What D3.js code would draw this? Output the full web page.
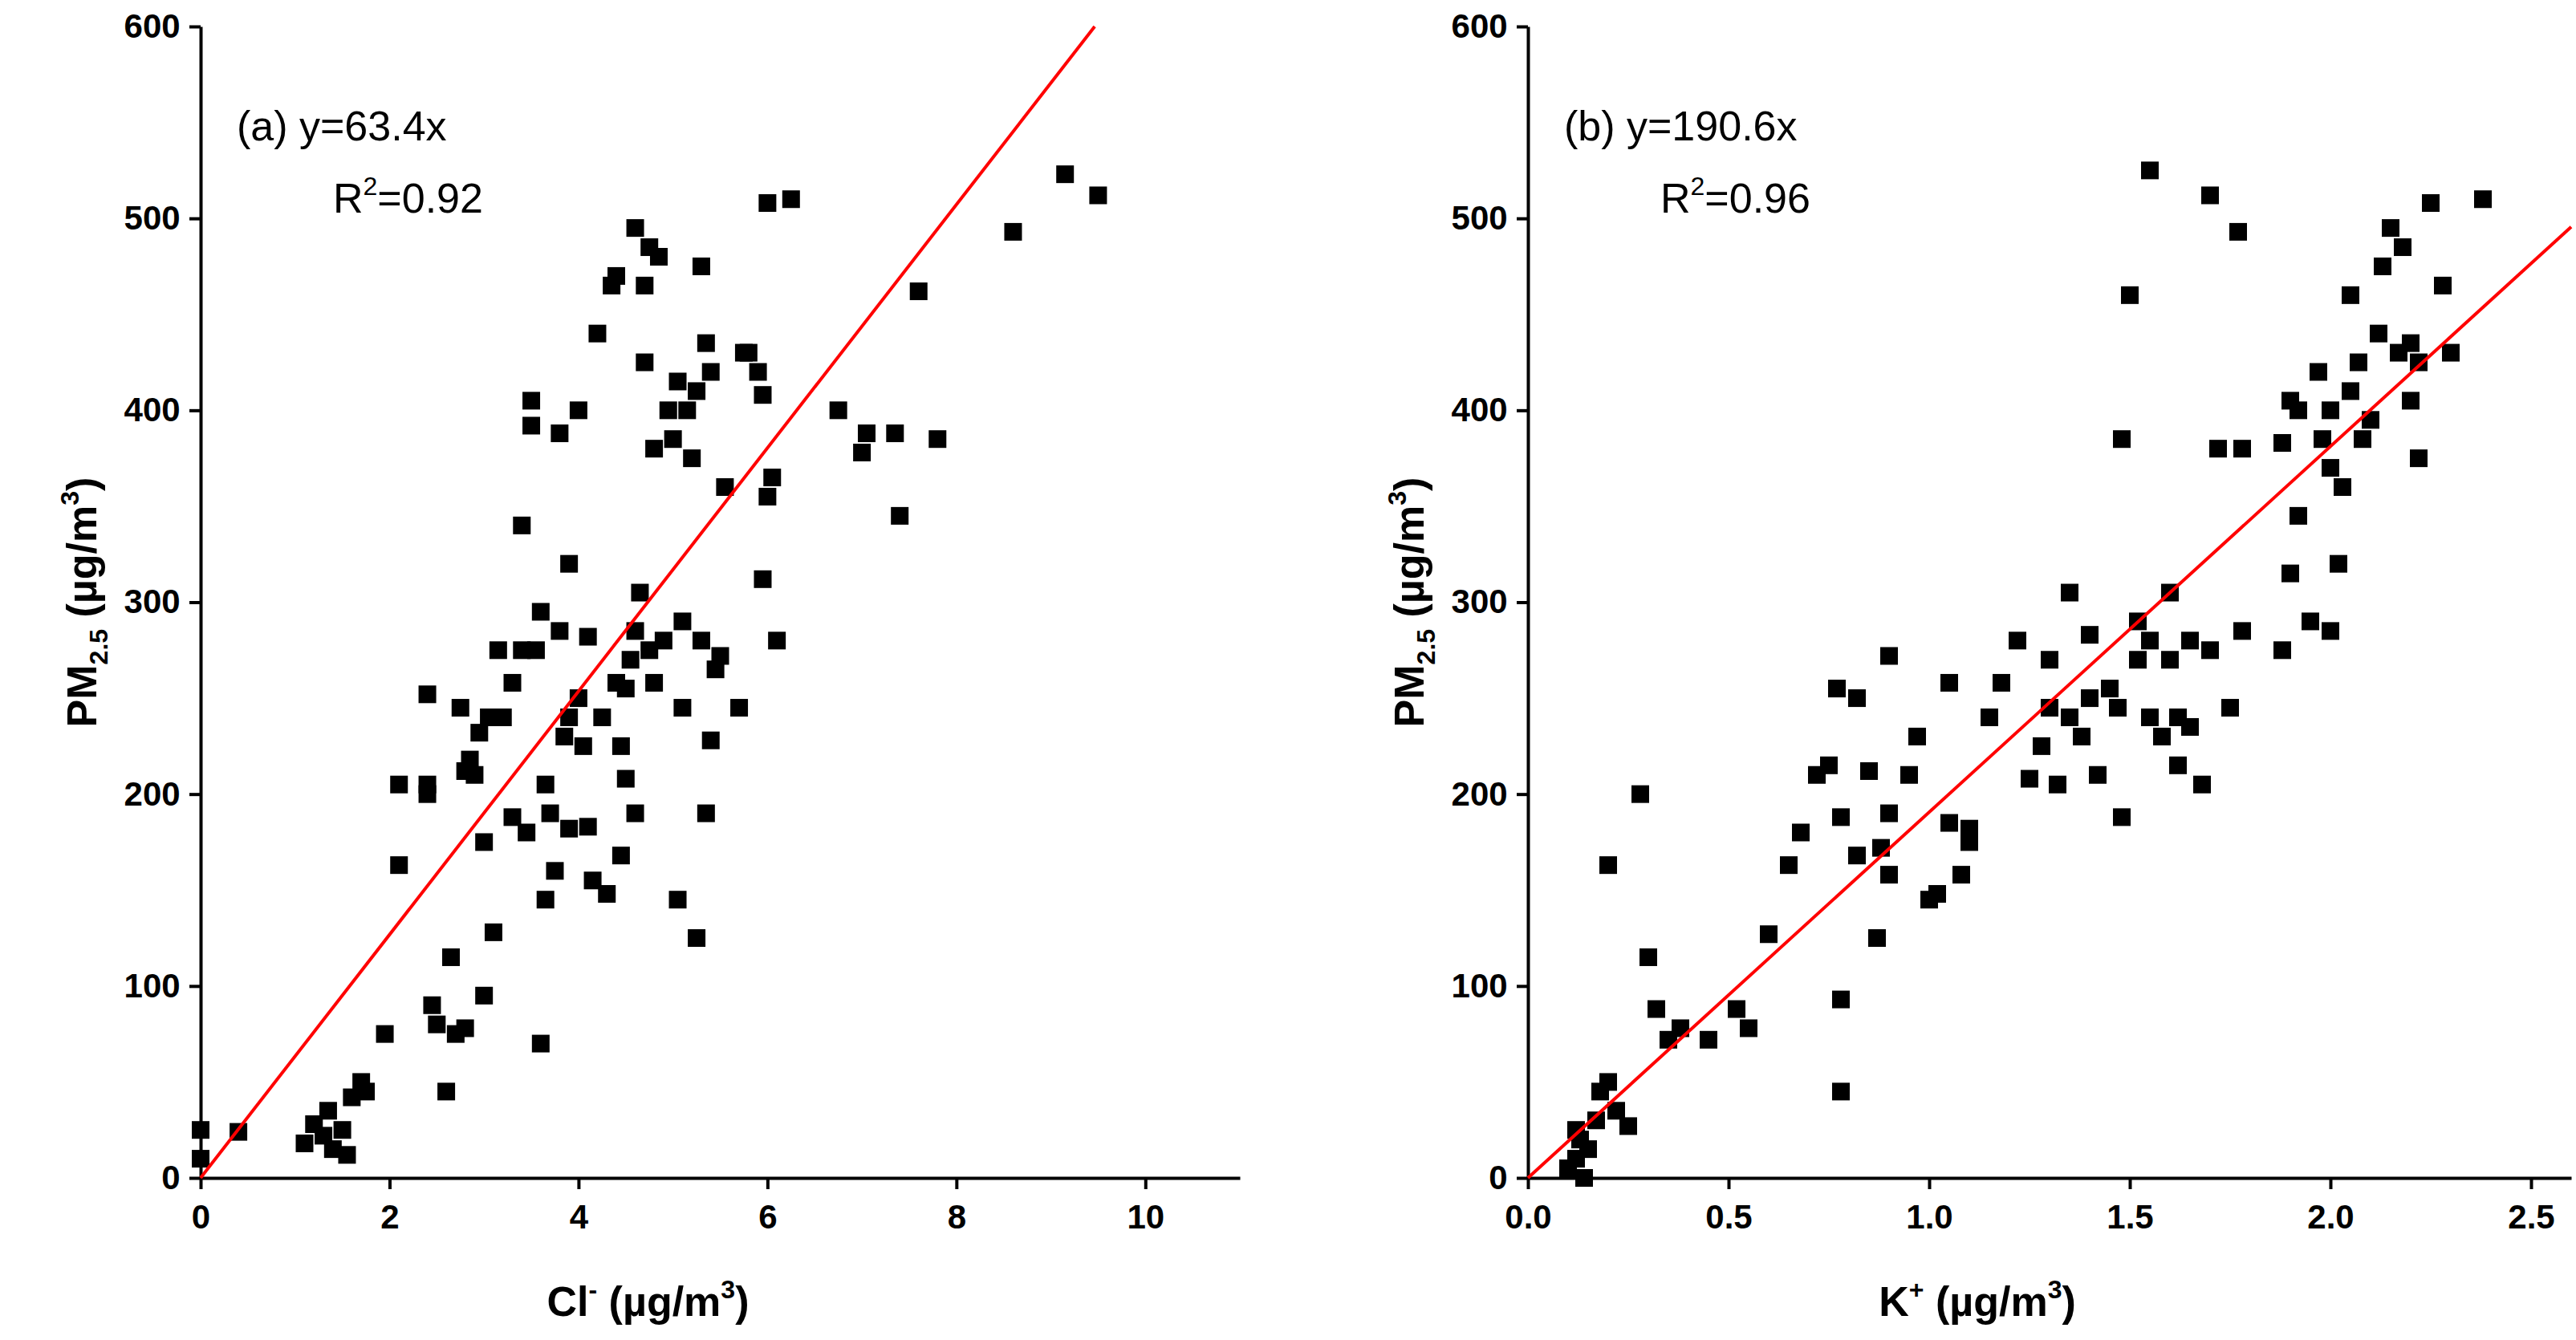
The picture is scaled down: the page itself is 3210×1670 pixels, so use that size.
<!DOCTYPE html>
<html><head><meta charset="utf-8">
<script src="https://cdn.jsdelivr.net/npm/d3@7"></script>
<style>body{margin:0;background:#fff}svg{display:block;font-family:"Liberation Sans",Arial,sans-serif}</style>
</head><body>
<script>
// panel (a): Cl- vs PM2.5
var clX = [0,0,0.4,1.1,1.2,1.3,1.35,1.4,1.5,1.55,1.6,1.7,1.75,1.95,2.1,2.1,2.4,2.4,2.45,2.5,2.4,2.6,2.65,2.7,2.8,2.75,2.8,2.85,2.9,2.95,3,3,3.05,3.1,3.15,3.2,3.3,3.3,3.4,3.4,3.45,3.5,3.5,3.55,3.6,3.65,3.6,3.7,3.65,3.75,3.8,3.8,3.85,3.9,3.9,3.9,4,4,4.05,4.1,4.1,4.15,4.2,4.25,4.3,4.35,4.4,4.4,4.45,4.45,4.5,4.5,4.55,4.6,4.6,4.6,4.65,4.7,4.7,4.75,4.75,4.8,4.8,4.85,4.9,4.95,5,5.05,5.05,5.1,5.1,5.15,5.2,5.25,5.3,5.3,5.35,5.35,5.4,5.4,5.45,5.5,5.55,5.7,5.75,5.8,5.9,5.95,6,5.95,6,6.05,6.1,6.25,5.25,6.75,7,7.05,7.35,7.4,7.6,7.8,8.6,9.15,9.5];
var clPM = [25,10,24,18,28,22,35,15,25,12,42,50,45,75,163,205,252,205,90,80,200,45,115,75,78,245,212,218,210,232,175,95,240,128,275,240,258,188,340,275,180,405,392,275,295,205,70,190,145,160,388,285,230,320,240,182,400,250,225,183,282,155,440,240,148,465,470,258,225,168,208,255,270,495,285,190,305,425,465,485,275,380,258,480,280,400,385,415,145,245,290,400,375,410,475,280,435,190,228,420,265,272,360,245,430,430,420,408,508,312,355,365,280,510,125,400,378,388,388,345,462,385,493,523,512];
// panel (b): K+ vs PM2.5
var kX = [0.1,0.12,0.13,0.15,0.12,0.14,0.17,0.18,0.2,0.2,0.22,0.25,0.28,0.3,0.32,0.35,0.38,0.45,0.52,0.55,0.6,0.65,0.68,0.72,0.75,0.77,0.78,0.78,0.78,0.82,0.82,0.85,0.87,0.88,0.9,0.9,0.9,0.95,0.97,1,1.02,1.05,1.05,1.08,1.1,1.1,1.15,1.18,1.22,1.25,1.28,1.3,1.3,1.32,1.35,1.35,1.38,1.4,1.4,1.42,1.45,1.47,1.48,1.48,1.5,1.52,1.55,1.52,1.55,1.55,1.58,1.6,1.6,1.62,1.62,1.65,1.65,1.68,1.7,1.7,1.72,1.75,1.77,1.78,1.78,1.88,1.88,1.9,1.9,1.92,1.92,1.95,1.97,1.98,2,2,2,2.02,2.03,2.05,2.05,2.07,2.08,2.1,2.12,2.13,2.15,2.17,2.18,2.2,2.2,2.22,2.22,2.25,2.28,2.3,2.38];
var kPM = [5,10,20,15,25,0,30,45,50,163,35,27,200,115,88,72,78,72,88,78,127,163,180,210,215,255,188,93,45,168,250,212,125,172,272,190,158,210,230,145,148,185,258,158,182,175,240,258,280,208,225,245,270,205,305,240,230,283,250,210,255,245,188,385,460,270,525,290,240,280,230,305,270,215,240,280,235,205,275,512,380,245,493,380,285,383,275,405,315,345,400,290,420,385,400,370,285,320,360,410,460,425,385,395,440,475,495,430,485,405,435,375,425,508,465,430,510];
var yTicks = [0,100,200,300,400,500,600];
var panels = [
  {x: clX, y: clPM, slope: 63.4, dom: [0, 11], ticks: [0,2,4,6,8,10], fmt: d3.format("d"), left: 250, right: 1545, tag: "(a)", eq: "y=63.4x", r2: "0.92", ion: "Cl", sup: "-"},
  {x: kX, y: kPM, slope: 190.6, dom: [0, 2.6], ticks: [0,0.5,1,1.5,2,2.5], fmt: d3.format(".1f"), left: 1904, right: 3204, tag: "(b)", eq: "y=190.6x", r2: "0.96", ion: "K", sup: "+"}
];
var svg = d3.select("body").append("svg").attr("width", 3210).attr("height", 1670);
var plotTop = 33, plotBottom = 1468;
panels.forEach(function (p) {
  var x = d3.scaleLinear().domain(p.dom).range([p.left, p.right]);
  var y = d3.scaleLinear().domain([0, 600]).range([plotBottom, plotTop]);
  var g = svg.append("g");
  var ax = g.append("g").attr("transform", "translate(0," + plotBottom + ")")
    .call(d3.axisBottom(x).tickValues(p.ticks).tickFormat(p.fmt).tickSize(14).tickSizeOuter(0));
  var ay = g.append("g").attr("transform", "translate(" + p.left + ",0)")
    .call(d3.axisLeft(y).tickValues(yTicks).tickSize(14).tickSizeOuter(0));
  [ax, ay].forEach(function (a) {
    a.selectAll("path,line").attr("stroke", "#000").attr("stroke-width", 4);
    a.selectAll("text").attr("font-size", 42).attr("font-weight", "bold").attr("font-family", "Liberation Sans, Arial");
  });
  ax.selectAll("text").attr("dy", "1.1em");
  ay.selectAll("text").attr("dx", "-0.2em");
  g.selectAll("rect.pt").data(p.x).enter().append("rect")
    .attr("x", function (d) { return x(d) - 11; })
    .attr("y", function (d, i) { return y(p.y[i]) - 11; })
    .attr("width", 22).attr("height", 22).attr("fill", "#000");
  var xEnd = Math.min(p.dom[1], 600 / p.slope);
  g.append("line").attr("x1", x(0)).attr("y1", y(0)).attr("x2", x(xEnd)).attr("y2", y(p.slope * xEnd))
    .attr("stroke", "#ff0000").attr("stroke-width", 4);
  var t = g.append("text").attr("x", p.left + 45).attr("y", 175).attr("font-size", 52);
  t.text(p.tag + "  " + p.eq);
  var r = g.append("text").attr("x", p.left + 165).attr("y", 265).attr("font-size", 52);
  r.append("tspan").text("R");
  r.append("tspan").attr("font-size", 32).attr("dy", -22).text("2");
  r.append("tspan").attr("dy", 22).text("=" + p.r2);
  var xl = g.append("text").attr("x", (p.left + p.right) / 2 - 90).attr("y", 1640)
    .attr("text-anchor", "middle").attr("font-size", 52).attr("font-weight", "bold");
  xl.append("tspan").text(p.ion);
  xl.append("tspan").attr("font-size", 32).attr("dy", -22).text(p.sup);
  xl.append("tspan").attr("dy", 22).text(" (\u00b5g/m");
  xl.append("tspan").attr("font-size", 32).attr("dy", -22).text("3");
  xl.append("tspan").attr("dy", 22).text(")");
  var yl = g.append("text").attr("transform", "translate(" + (p.left - 130) + "," + ((plotTop + plotBottom) / 2) + ") rotate(-90)")
    .attr("text-anchor", "middle").attr("font-size", 52).attr("font-weight", "bold");
  yl.append("tspan").text("PM");
  yl.append("tspan").attr("font-size", 32).attr("dy", 14).text("2.5");
  yl.append("tspan").attr("dy", -14).text(" (\u00b5g/m");
  yl.append("tspan").attr("font-size", 32).attr("dy", -22).text("3");
  yl.append("tspan").attr("dy", 22).text(")");
});
</script>
</body></html>
